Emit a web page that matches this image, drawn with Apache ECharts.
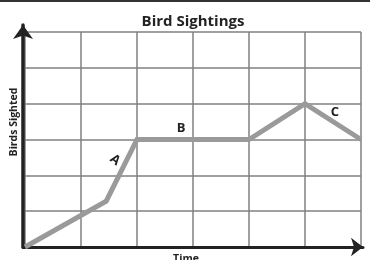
<!DOCTYPE html>
<html>
<head>
<meta charset="utf-8">
<script src="https://cdn.jsdelivr.net/npm/echarts@6/dist/echarts.min.js"></script>
<style>
  html, body { margin: 0; padding: 0; background: #fff; }
  #chart { width: 370px; height: 260px; }
</style>
</head>
<body>
<div id="chart"></div>
<script>
// time (grid units) and birds sighted (grid units)
const times = [0, 1.45, 2, 4, 5, 6];
const birds = [0, 1.28, 3, 3, 4, 3];
const segLabels = ['A', 'B', 'C'];

const font = '"Open Sans", "Noto Sans", sans-serif';
const chart = echarts.init(document.getElementById('chart'));

let points = times.map(function (t, i) { return [t, birds[i]]; });

chart.setOption({
  animation: false,
  title: {
    text: 'Bird Sightings',
    left: 188,
    textAlign: 'center',
    top: 9,
    textStyle: { fontFamily: font, fontWeight: 'bold', fontSize: 15, color: '#222' }
  },
  grid: [
    { left: 25, right: 9, top: 32, bottom: 13 },
    // only for the arrow axes
    { left: 23, right: 7, top: 25, bottom: 13 }
  ],
  xAxis: [
    {
      type: 'value', gridIndex: 0, min: 0, max: 6, interval: 1,
      axisLine: { show: false }, axisTick: { show: false }, axisLabel: { show: false },
      splitLine: { show: true, lineStyle: { color: '#808080', width: 1.5 } }
    },
    {
      type: 'value', gridIndex: 1, min: 0, max: 1,
      axisLine: {
        show: true, symbol: ['none', 'arrow'], symbolSize: [14, 12],
        lineStyle: { color: '#222', width: 3 }
      },
      axisTick: { show: false }, axisLabel: { show: false }, splitLine: { show: false }
    }
  ],
  yAxis: [
    {
      type: 'value', gridIndex: 0, min: 0, max: 6, interval: 1,
      axisLine: { show: false }, axisTick: { show: false }, axisLabel: { show: false },
      splitLine: { show: true, lineStyle: { color: '#808080', width: 1.5 } }
    },
    {
      type: 'value', gridIndex: 1, min: 0, max: 1,
      axisLine: {
        show: true, symbol: ['none', 'arrow'], symbolSize: [15, 14],
        lineStyle: { color: '#222', width: 3.5 }
      },
      axisTick: { show: false }, axisLabel: { show: false }, splitLine: { show: false }
    }
  ],
  series: [
    {
      type: 'line',
      xAxisIndex: 0,
      yAxisIndex: 0,
      data: points,
      showSymbol: false,
      lineStyle: { color: '#9a9a9a', width: 5, join: 'miter' }
    }
  ],
  graphic: [
    { type: 'rect', shape: { x: 0, y: 0, width: 370, height: 2 }, style: { fill: '#333' } },
    // axis titles
    {
      type: 'text', x: 14, y: 122, rotation: Math.PI / 2,
      style: { text: 'Birds Sighted', font: 'bold 10.5px ' + font, fill: '#222', align: 'center', verticalAlign: 'middle' }
    },
    {
      type: 'text', x: 186, y: 259,
      style: { text: 'Time', font: 'bold 10.5px ' + font, fill: '#222', align: 'center', verticalAlign: 'middle' }
    },
    {
      type: 'text', x: 115, y: 160, rotation: -0.65,
      style: { text: segLabels[0], font: 'bold 13px ' + font, fill: '#222', align: 'center', verticalAlign: 'middle' }
    },
    {
      type: 'text', x: 181, y: 128,
      style: { text: segLabels[1], font: 'bold 13px ' + font, fill: '#222', align: 'center', verticalAlign: 'middle' }
    },
    {
      type: 'text', x: 335, y: 112,
      style: { text: segLabels[2], font: 'bold 13px ' + font, fill: '#222', align: 'center', verticalAlign: 'middle' }
    }
  ]
});
</script>
</body>
</html>
